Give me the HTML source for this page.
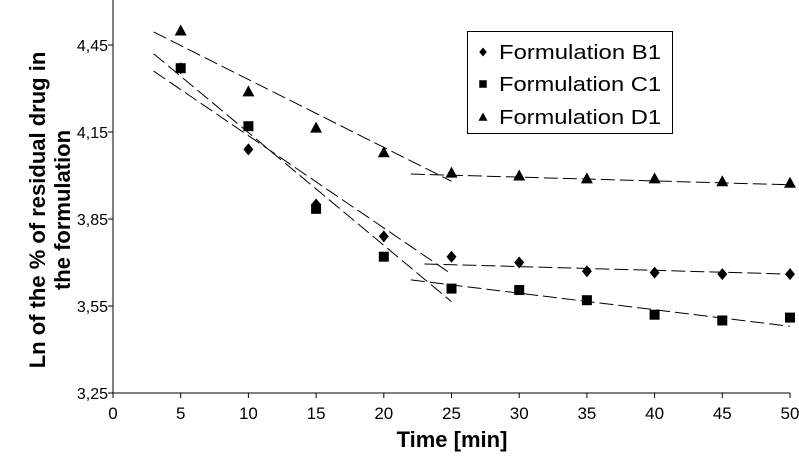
<!DOCTYPE html>
<html><head><meta charset="utf-8"><style>
body{margin:0;background:#fff;}
svg{display:block;font-family:"Liberation Sans",Arial,sans-serif;}
</style></head><body>
<svg id="chart" width="799" height="460"></svg>
<script>
const xTicks=[0,5,10,15,20,25,30,35,40,45,50];
const yTicks=[3.25,3.55,3.85,4.15,4.45];
const yTickLabels=["3,25","3,55","3,85","4,15","4,45"];
const times=[5,10,15,20,25,30,35,40,45,50];
const seriesB=[4.37,4.09,3.90,3.79,3.72,3.70,3.67,3.665,3.66,3.66];
const seriesC=[4.37,4.17,3.885,3.72,3.61,3.605,3.57,3.52,3.50,3.51];
const seriesD=[4.50,4.29,4.165,4.08,4.01,4.00,3.99,3.99,3.98,3.975];
const trendB1=[[3,4.36],[25,3.66]];
const trendB2=[[23,3.695],[50,3.66]];
const trendC1=[[3,4.42],[25,3.565]];
const trendC2=[[22,3.64],[50,3.48]];
const trendD1=[[3,4.495],[25,3.98]];
const trendD2=[[22,4.005],[50,3.968]];

const svg=document.getElementById('chart');
const NS='http://www.w3.org/2000/svg';
const X0=113,X1=790,Y0=393,Ypx=290;
const xs=v=>X0+(X1-X0)*v/50;
const ys=v=>Y0-(v-3.25)*Ypx;
function mk(t,a,p){const e=document.createElementNS(NS,t);for(const k in a)e.setAttribute(k,a[k]);(p||svg).appendChild(e);return e;}

const ax=mk('g',{});


const yl=mk('line',{x1:X0,y1:0,x2:X0,y2:Y0,stroke:'#000','stroke-width':1},ax);


const xl=mk('line',{x1:X0,y1:Y0,x2:X1,y2:Y0,stroke:'#000','stroke-width':1},ax);


xTicks.forEach(t=>{
  mk('line',{x1:xs(t),y1:Y0,x2:xs(t),y2:Y0+5,stroke:'#000'},ax);
  const tx=mk('text',{x:xs(t),y:Y0+26,'text-anchor':'middle','font-size':17},ax);
  tx.textContent=t;
  
  
});
yTicks.forEach((t,i)=>{
  mk('line',{x1:X0-5,y1:ys(t),x2:X0,y2:ys(t),stroke:'#000'},ax);
  const tx=mk('text',{x:X0-5,y:ys(t)+6,'text-anchor':'end','font-size':16},ax);
  tx.textContent=yTickLabels[i];
  
  
});
const xt=mk('text',{x:452,y:447,'text-anchor':'middle','font-size':22,'font-weight':'bold'});
xt.textContent='Time [min]';


const yt=mk('text',{transform:'translate(0,210) rotate(-90)','text-anchor':'middle','font-size':22,'font-weight':'bold'});


const t1=mk('tspan',{x:0,y:45},yt);t1.textContent='Ln of the % of residual drug in';
const t2=mk('tspan',{x:0,y:70},yt);t2.textContent='the formulation';

[trendB1,trendB2,trendC1,trendC2,trendD1,trendD2].forEach(tr=>{
  const l=mk('line',{x1:xs(tr[0][0]),y1:ys(tr[0][1]),x2:xs(tr[1][0]),y2:ys(tr[1][1]),stroke:'#000','stroke-width':1,'stroke-dasharray':'14,5'});
  
  
});
function marker(kind,cx,cy,p,s){
  s=s||1;
  if(kind==='d') return mk('polygon',{points:`${cx},${cy-6*s} ${cx+5*s},${cy} ${cx},${cy+6*s} ${cx-5*s},${cy}`,fill:'#000'},p);
  if(kind==='s') return mk('rect',{x:cx-5*s,y:cy-5*s,width:10*s,height:10*s,fill:'#000'},p);
  return mk('polygon',{points:`${cx},${cy-6*s} ${cx+6*s},${cy+5*s} ${cx-6*s},${cy+5*s}`,fill:'#000'},p);
}
[[seriesB,'d','b1'],[seriesC,'s','c1'],[seriesD,'t','d1']].forEach(([arr,k,n])=>{
  const g=mk('g',{});
  
  
  arr.forEach((v,i)=>{
    const m=marker(k,xs(times[i]),ys(v),g);
    
    
  });
});
const lg=mk('g',{});


mk('rect',{x:467.5,y:31.5,width:205,height:102,fill:'#fff',stroke:'#000'},lg);
[['d','Formulation B1',52],['s','Formulation C1',84],['t','Formulation D1',117]].forEach(([k,l,y])=>{
  const e=mk('g',{},lg);
  
  
  marker(k,483,y,e,0.75);
  const tx=mk('text',{x:499,y:y+7,'font-size':20,textLength:162,lengthAdjust:'spacingAndGlyphs'},e);
  tx.textContent=l;
});
</script>
</body></html>
